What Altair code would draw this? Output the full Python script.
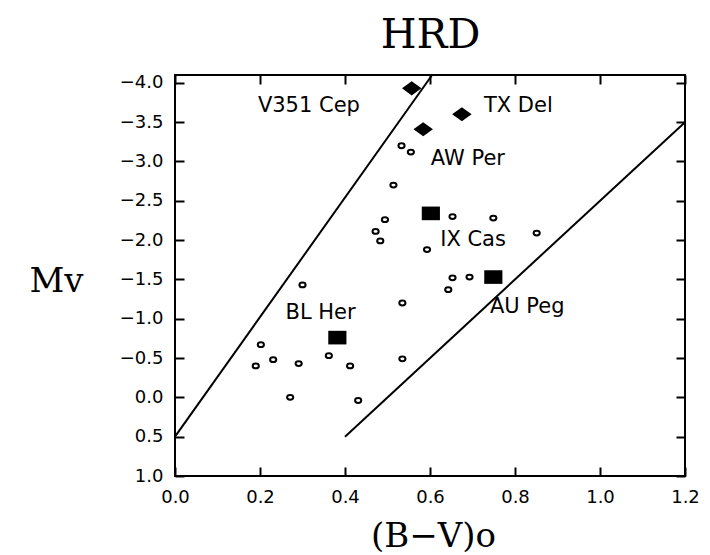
import altair as alt
import pandas as pd

# ---- data ----
circle_bv = [0.533, 0.555, 0.514, 0.494, 0.653, 0.472, 0.483, 0.593, 0.300, 0.653,
             0.693, 0.643, 0.535, 0.749, 0.851, 0.202, 0.190, 0.231, 0.291, 0.362,
             0.412, 0.535, 0.271, 0.431]
circle_mv = [-3.20, -3.12, -2.70, -2.26, -2.30, -2.11, -1.99, -1.88, -1.43, -1.52,
             -1.53, -1.37, -1.20, -2.28, -2.09, -0.67, -0.40, -0.48, -0.43, -0.53,
             -0.40, -0.49, 0.00, 0.04]

diamond_bv = [0.557, 0.675, 0.584]
diamond_mv = [-3.93, -3.60, -3.41]

square_bv = [0.602, 0.749, 0.382]
square_mv = [-2.34, -1.53, -0.76]

label_text = ["V351 Cep", "TX Del", "AW Per", "IX Cas", "BL Her", "AU Peg"]
label_bv = [0.195, 0.727, 0.602, 0.624, 0.260, 0.741]
label_mv = [-3.70, -3.70, -3.03, -2.00, -1.07, -1.15]

line_id = ["left", "left", "right", "right"]
line_bv = [0.0, 0.605, 0.4, 1.2]
line_mv = [0.5, -4.1, 0.5, -3.5]

x_ticks = [0.0, 0.2, 0.4, 0.6, 0.8, 1.0, 1.2]
y_ticks = [-4.0, -3.5, -3.0, -2.5, -2.0, -1.5, -1.0, -0.5, 0.0, 0.5, 1.0]

circles = pd.DataFrame({"bv": circle_bv, "mv": circle_mv})
diamonds = pd.DataFrame({"bv": diamond_bv, "mv": diamond_mv})
squares = pd.DataFrame({"bv": square_bv, "mv": square_mv})
labels = pd.DataFrame({"bv": label_bv, "mv": label_mv, "name": label_text})
lines = pd.DataFrame({"bv": line_bv, "mv": line_mv, "id": line_id})

xs = alt.Scale(domain=[0.0, 1.2], nice=False, zero=False)
ys = alt.Scale(domain=[-4.1, 1.0], reverse=True, nice=False, zero=False)

common = dict(offset=-9, tickSize=9, tickWidth=2, tickColor="black", domain=False,
              grid=False, labelOverlap=False, labelFlush=False)

ax_bottom = alt.Axis(orient="bottom", values=x_ticks, format=".1f", labelFont="DejaVu Sans",
                     labelFontSize=18, labelColor="black", labelPadding=12,
                     title="(B−V)o", titleFont="DejaVu Serif", titleFontSize=34,
                     titleFontWeight="normal", titleColor="black", titleX=258, titleY=79,
                     titleAlign="center", titleBaseline="alphabetic", **common)
ax_left = alt.Axis(orient="left", values=y_ticks, format=".1f", labelFont="DejaVu Sans",
                   labelFontSize=18, labelColor="black", labelPadding=12,
                   title="Mv", titleFont="DejaVu Serif", titleFontSize=34,
                   titleFontWeight="normal", titleColor="black", titleAngle=0,
                   titleX=-128, titleY=206, titleAlign="center", titleBaseline="middle",
                   **common)
# the top axis carries the chart heading "HRD" as its title
ax_top = alt.Axis(orient="top", values=x_ticks, labels=False,
                  title="HRD", titleFont="DejaVu Serif", titleFontSize=41,
                  titleFontWeight="normal", titleColor="black", titleX=255, titleY=-37,
                  titleAlign="center", titleBaseline="alphabetic", **common)
ax_right = alt.Axis(orient="right", values=y_ticks, labels=False, title=None, **common)

line_layer = alt.Chart(lines).mark_line(color="black", strokeWidth=2).encode(
    x=alt.X("bv:Q", scale=xs, axis=ax_top),
    y=alt.Y("mv:Q", scale=ys, axis=ax_right),
    detail="id:N",
)

ellipse = "M-1,0A1,0.78 0 1,0 1,0A1,0.78 0 1,0 -1,0Z"
circle_layer = alt.Chart(circles).mark_point(
    shape=ellipse, size=38, filled=False, color="black", strokeWidth=2, opacity=1
).encode(
    x=alt.X("bv:Q", scale=xs, axis=ax_bottom),
    y=alt.Y("mv:Q", scale=ys, axis=ax_left),
)

diamond_layer = alt.Chart(diamonds).mark_point(
    shape="M-1,0L0,-0.72L1,0L0,0.72Z", size=380, filled=True, color="black", opacity=1
).encode(
    x=alt.X("bv:Q", scale=xs, axis=None),
    y=alt.Y("mv:Q", scale=ys, axis=None),
)

square_layer = alt.Chart(squares).mark_point(
    shape="M-1,-0.75L1,-0.75L1,0.75L-1,0.75Z", size=330, filled=True, color="black", opacity=1
).encode(
    x=alt.X("bv:Q", scale=xs, axis=None),
    y=alt.Y("mv:Q", scale=ys, axis=None),
)

text_layer = alt.Chart(labels).mark_text(
    align="left", baseline="middle", font="DejaVu Sans", fontSize=21, color="black"
).encode(
    x=alt.X("bv:Q", scale=xs, axis=None),
    y=alt.Y("mv:Q", scale=ys, axis=None),
    text="name:N",
)

chart = alt.layer(
    line_layer, circle_layer, diamond_layer, square_layer, text_layer
).resolve_axis(x="independent", y="independent").properties(
    width=510,
    height=401,
    autosize=alt.AutoSizeParams(type="none"),
    padding={"left": 167, "top": 67, "right": 17, "bottom": 78},
).configure_view(stroke="black", strokeWidth=2)

chart.save("out.html", embed_options={"renderer": "svg", "actions": False})
